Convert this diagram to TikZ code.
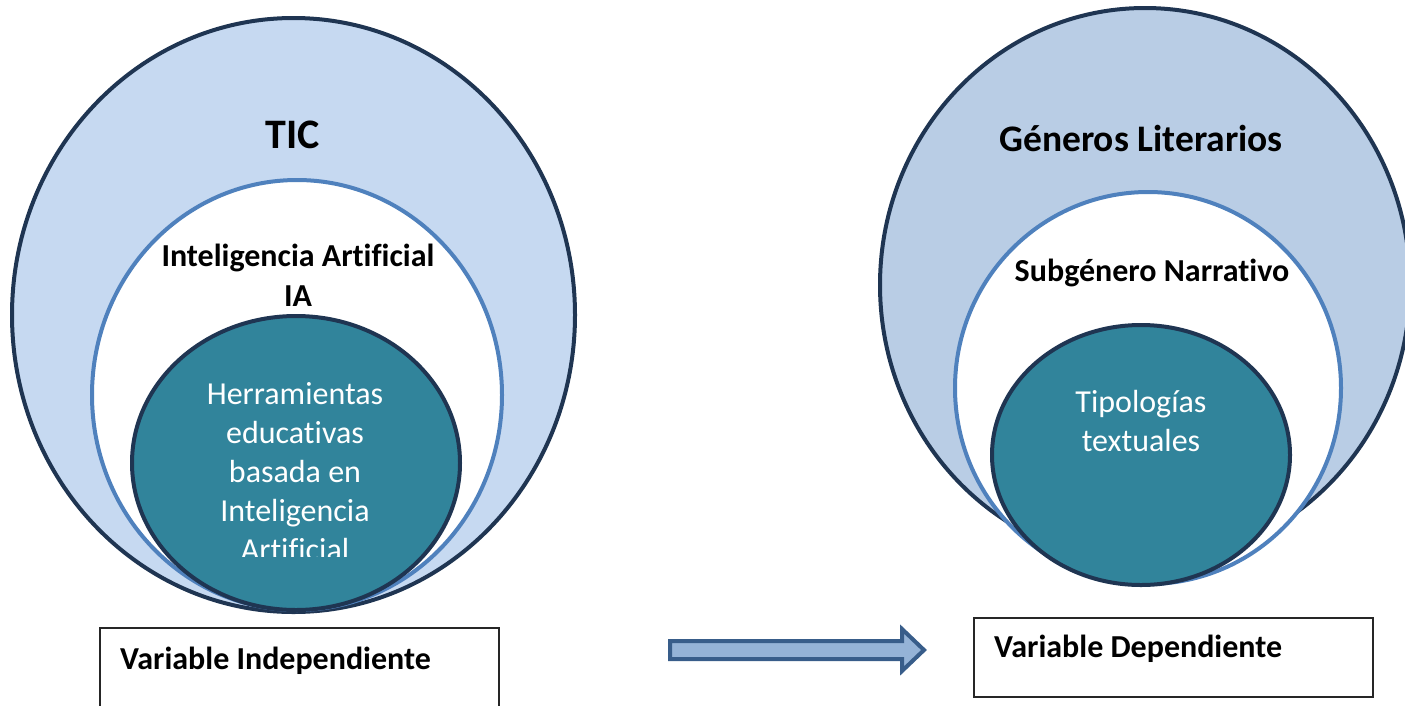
\documentclass[tikz,border=0pt]{standalone}
\usepackage{fontspec}
\setmainfont{Carlito}[Ligatures=NoCommon]
\usetikzlibrary{shapes.geometric}
\definecolor{ticFill}{HTML}{C6D9F1}
\definecolor{generoFill}{HTML}{B9CDE5}
\definecolor{navyLine}{HTML}{1F3552}
\definecolor{midLine}{HTML}{4F81BD}
\definecolor{tealFill}{HTML}{31849B}
\definecolor{arrowFill}{HTML}{95B3D7}
\definecolor{arrowLine}{HTML}{385D8A}
\tikzset{
  ring/.style={ellipse, inner sep=0pt, line width=4pt},
  outerRing/.style={ring, draw=navyLine},
  midRing/.style={ring, draw=midLine, fill=white},
  coreRing/.style={ring, draw=navyLine, fill=tealFill},
  titleText/.style={font=\bfseries\fontsize{#1}{47}\selectfont},
  ringText/.style={font=\bfseries\fontsize{32}{40}\selectfont, align=center},
  coreText/.style={text=white, font=\fontsize{32}{39}\selectfont, align=center},
  varBox/.style={draw=black!85, line width=1.3pt, inner sep=0pt},
  varText/.style={font=\bfseries\fontsize{32}{38}\selectfont, inner sep=0pt},
  blockArrow/.style={draw=arrowLine, fill=arrowFill, line width=4pt, line join=miter}
}
\begin{document}
\begin{tikzpicture}[x=1pt,y=-1pt]
\useasboundingbox (0,0) rectangle (1405,705);
% independent variable
\node[outerRing, fill=ticFill, minimum width=563, minimum height=594] (ticRing) at (293.5,315) {};
\node[midRing, minimum width=410, minimum height=430] (iaRing) at (297,395) {};
\node[coreRing, minimum width=328, minimum height=294] (herrRing) at (296,463) {};
\node[titleText=42] (ticLbl) at (293,135) {TIC};
\node[ringText] (iaLbl) at (298,275) {Inteligencia Artificial\\IA};
\begin{scope}
  \clip (0,0) rectangle (1405,556);
  \node[coreText] (herrLbl) at (295,472) {Herramientas\\educativas\\basada en\\Inteligencia\\Artificial};
\end{scope}
% dependent variable
\node[outerRing, fill=generoFill, minimum width=530, minimum height=554] (generoRing) at (1145,285) {};
\node[midRing, minimum width=386, minimum height=392] (narrRing) at (1148,388) {};
\node[coreRing, minimum width=298, minimum height=260] (tipoRing) at (1141,455) {};
\node[titleText=37.5] (generoLbl) at (1141,138) {Géneros Literarios};
\node[ringText] (narrLbl) at (1152,273) {Subgénero Narrativo};
\node[coreText] (tipoLbl) at (1141,421) {Tipologías\\textuales};
% boxes
\node[varBox, minimum width=399, minimum height=84] (indepBox) at (299.5,670) {};
\node[varText, anchor=west] (indepLbl) at (120,661) {Variable Independiente};
\node[varBox, minimum width=399, minimum height=79] (depBox) at (1173.5,657.5) {};
\node[varText, anchor=west] (depLbl) at (994,649) {Variable Dependiente};
% arrow
\coordinate (arrTail) at (670,650);
\coordinate (arrTip) at (924,650);
\draw[blockArrow, shift={(arrTail)}] (0,-9) -- (232,-9) -- (232,-21) -- (254,0) -- (232,21) -- (232,9) -- (0,9) -- cycle;
\end{tikzpicture}
\end{document}
